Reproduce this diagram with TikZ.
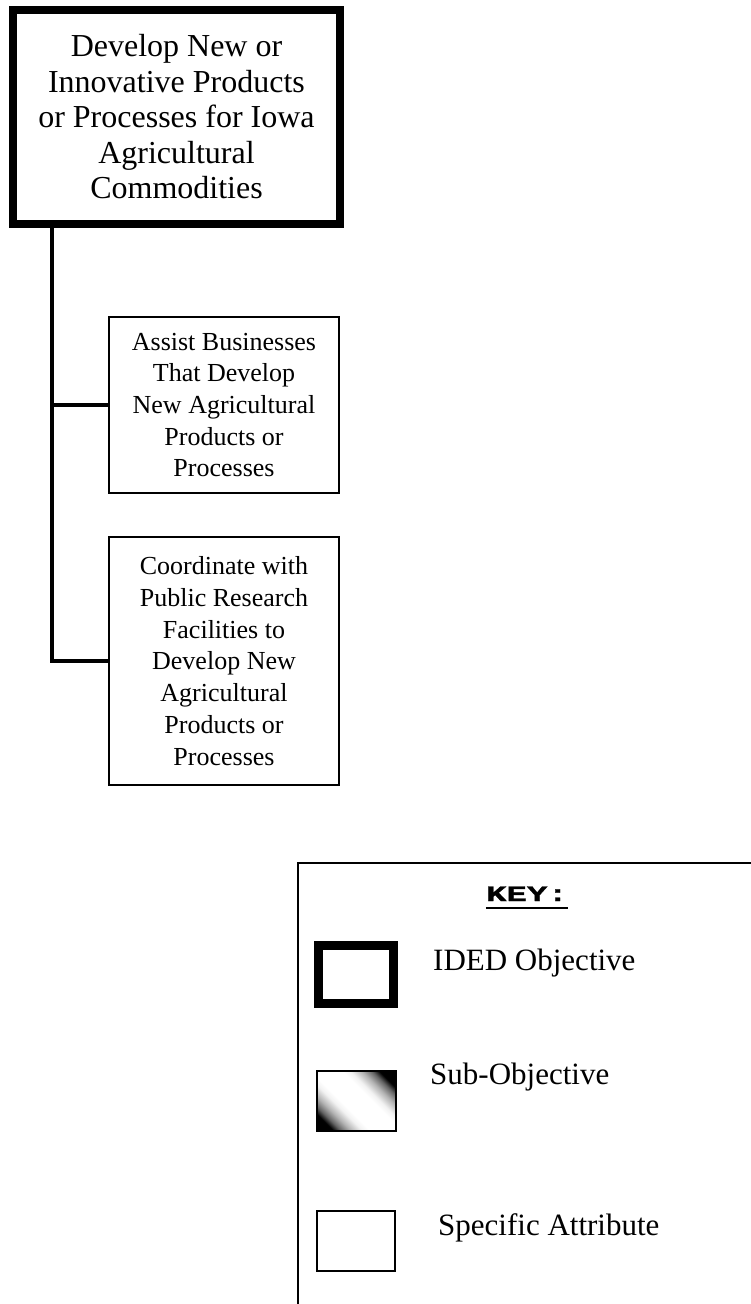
\documentclass[tikz,border=0pt]{standalone}
\usepackage{fontspec}
\setmainfont{Liberation Serif}
\newfontfamily\keyfont[FakeStretch=1.55,FakeBold=1.2]{Liberation Mono}
\pgfdeclareverticalshading{subobjshade}{100bp}{color(0bp)=(black); color(23bp)=(black); color(27bp)=(black!60); color(32bp)=(black!30); color(38bp)=(black!5); color(42bp)=(white); color(58bp)=(white); color(62bp)=(black!5); color(68bp)=(black!30); color(73bp)=(black!60); color(77bp)=(black); color(100bp)=(black)}
\begin{document}
\begin{tikzpicture}[x=1pt,y=-1pt,
  objbox/.style={draw, line width=8pt, minimum width=327pt, minimum height=214pt, inner sep=0pt, align=center, font=\fontsize{32}{35.5}\selectfont},
  attrbox/.style={draw, line width=2pt, minimum width=230pt, inner sep=0pt, align=center, font=\fontsize{26}{31.7}\selectfont},
  conn/.style={line width=4pt, line join=miter},
  keyframe/.style={line width=2pt},
  keyobj/.style={draw, line width=9pt, minimum width=75pt, minimum height=58pt, inner sep=0pt},
  keysub/.style={draw, line width=2pt, shade, shading=subobjshade, shading angle=-45, minimum width=79pt, minimum height=60pt, inner sep=0pt},
  keyattr/.style={draw, line width=2pt, minimum width=78pt, minimum height=60pt, inner sep=0pt},
  keylabel/.style={anchor=base west, inner sep=0pt, font=\fontsize{31}{36}\selectfont},
  keytitle/.style={anchor=base, inner sep=0pt, font=\keyfont\bfseries\fontsize{22}{24}\selectfont}
]
\useasboundingbox (0,0) rectangle (750,1304);

% main objective
\node[objbox] (obj) at (176.5,117) {Develop New or\\Innovative Products\\or Processes for Iowa\\Agricultural\\Commodities};

% attributes
\node[attrbox, minimum height=176pt] (a1) at (224,405) {Assist Businesses\\That Develop\\New Agricultural\\Products or\\Processes};
\node[attrbox, minimum height=248pt] (a2) at (224,661) {Coordinate with\\Public Research\\Facilities to\\Develop New\\Agricultural\\Products or\\Processes};

% connectors
\coordinate (trunk) at (52,0);
\draw[conn] (obj.south -| trunk) -- (trunk |- a2.west) -- (a2.west);
\draw[conn] (trunk |- a1.west) -- (a1.west);

% key
\draw[keyframe] (752,863) -- (298,863) -- (298,1306);
\node[keytitle] (keyt) at (527,901) {KEY:};
\draw[line width=2pt] ([yshift=-7pt]keyt.base west) -- ([yshift=-7pt]keyt.base east);

\node[keyobj] (k1) at (356,974.5) {};
\node[keysub] (k2) at (356.5,1101) {};
\node[keyattr] (k3) at (356,1241) {};

\node[keylabel] (l1) at (433,970) {IDED Objective};
\node[keylabel] (l2) at (430,1084) {Sub-Objective};
\node[keylabel] (l3) at (438,1235) {Specific Attribute};
\end{tikzpicture}
\end{document}
